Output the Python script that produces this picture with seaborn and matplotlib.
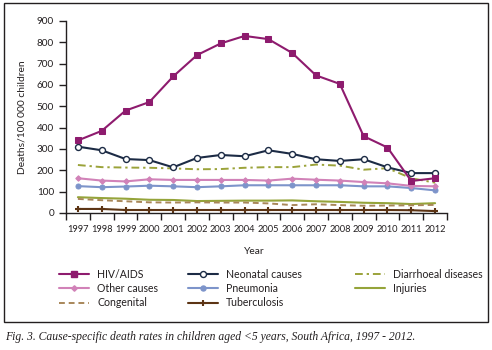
import matplotlib
matplotlib.use("Agg")
import matplotlib.pyplot as plt
import seaborn as sns
import pandas as pd
from matplotlib.patches import Rectangle
from matplotlib.lines import Line2D

years = [1997, 1998, 1999, 2000, 2001, 2002, 2003, 2004, 2005, 2006, 2007, 2008, 2009, 2010, 2011, 2012]
hiv_aids = [340, 385, 480, 520, 640, 740, 795, 830, 815, 750, 645, 605, 360, 307, 150, 163]
neonatal = [311, 294, 253, 248, 214, 258, 272, 266, 294, 277, 252, 244, 252, 214, 187, 187]
diarrhoeal = [225, 215, 213, 212, 209, 205, 206, 212, 215, 215, 227, 222, 203, 210, 163, 142]
other_causes = [163, 152, 148, 158, 155, 155, 155, 155, 152, 161, 156, 152, 145, 139, 127, 125]
pneumonia = [126, 121, 124, 128, 125, 121, 125, 130, 130, 130, 130, 130, 125, 125, 117, 106]
injuries = [74, 70, 67, 62, 61, 56, 57, 58, 58, 59, 55, 52, 48, 46, 42, 46]
congenital = [66, 60, 55, 50, 49, 50, 49, 49, 45, 37, 41, 37, 34, 35, 36, 38]
tuberculosis = [19, 19, 14, 14, 14, 14, 14, 14, 14, 14, 14, 14, 14, 14, 13, 9]

series = [
    ("HIV/AIDS", hiv_aids, dict(color="#8e1b6e", marker="s", markersize=4.3, lw=1.5, ls="-")),
    ("Other causes", other_causes, dict(color="#d182b8", marker="D", markersize=2.8, lw=1.5, ls="-")),
    ("Congenital", congenital, dict(color="#a8875a", marker=None, lw=1.4, ls=(0, (3, 2)))),
    ("Neonatal causes", neonatal, dict(color="#1c2b45", marker="o", markersize=4.3, lw=1.5, ls="-",
                                        mfc="white", mec="#1c2b45", mew=1.0)),
    ("Pneumonia", pneumonia, dict(color="#7d94ca", marker="o", markersize=3.6, lw=1.5, ls="-")),
    ("Tuberculosis", tuberculosis, dict(color="#5c3414", marker="+", markersize=5, mew=1.5, lw=1.5, ls="-")),
    ("Diarrhoeal diseases", diarrhoeal, dict(color="#9ba33a", marker=None, lw=1.4, ls=(0, (4, 2, 1.2, 2)))),
    ("Injuries", injuries, dict(color="#95a43a", marker=None, lw=1.5, ls="-")),
]

sns.set_theme(style="white")
plt.rcParams["font.family"] = ["Lato", "DejaVu Sans"]

fig = plt.figure(figsize=(4.92, 3.5), dpi=100)
fig.patch.set_facecolor("white")
ax = fig.add_axes([66 / 492, 1 - 213 / 350, (447 - 66) / 492, (213 - 21) / 350])

xpos = list(range(len(years)))
draw_order = ["Injuries", "Congenital", "Tuberculosis", "Pneumonia", "Other causes",
              "Diarrhoeal diseases", "Neonatal causes", "HIV/AIDS"]
lookup = {name: (vals, st) for name, vals, st in series}
for name in draw_order:
    vals, st = lookup[name]
    df = pd.DataFrame({"x": xpos, "y": vals})
    kw = dict(st)
    color = kw.pop("color")
    ls = kw.pop("ls")
    lw = kw.pop("lw")
    marker = kw.pop("marker")
    sns.lineplot(data=df, x="x", y="y", ax=ax, color=color, linestyle=ls, linewidth=lw,
                 marker=marker if marker else "", markeredgecolor=kw.pop("mec", color),
                 **kw, legend=False)

ax.set_xlim(-0.5, 15.5)
ax.set_ylim(0, 900)
ax.set_yticks(range(0, 901, 100))
ax.set_xticks(xpos)
ax.set_xticklabels([str(y) for y in years])
ax.set_xticks([i - 0.5 for i in range(17)], minor=True)
ax.tick_params(axis="x", which="major", length=0, labelsize=6.7, pad=9, colors="#231f20")
ax.tick_params(axis="x", which="minor", length=5, width=1.0, direction="out", color="#231f20", bottom=True)
ax.tick_params(axis="y", which="major", length=5, width=1.0, direction="out", color="#231f20",
               labelsize=7.2, left=True, colors="#231f20")
for s in ["top", "right"]:
    ax.spines[s].set_visible(False)
for s in ["left", "bottom"]:
    ax.spines[s].set_color("#231f20")
    ax.spines[s].set_linewidth(1.0)
ax.set_xlabel("")
ax.set_ylabel("")
ax.grid(False)

fig.text(22 / 492, 1 - 117 / 350, "Deaths/100 000 children", rotation=90, ha="center", va="center",
         fontsize=7.4, color="#231f20")
fig.text(254 / 492, 1 - 251 / 350, "Year", ha="center", va="center", fontsize=7.4, color="#231f20")


def proxy(name):
    vals, st = lookup[name]
    m = st.get("marker")
    return Line2D([], [], color=st["color"], linestyle=st["ls"], linewidth=st["lw"],
                  marker=m if m else "", markersize=st.get("markersize", 4),
                  markerfacecolor=st.get("mfc", st["color"]), markeredgecolor=st.get("mec", st["color"]),
                  markeredgewidth=st.get("mew", 1.0))


cols = [(["HIV/AIDS", "Other causes", "Congenital"], 59),
        (["Neonatal causes", "Pneumonia", "Tuberculosis"], 188),
        (["Diarrhoeal diseases", "Injuries"], 355)]
for names, xpx in cols:
    leg = fig.legend([proxy(n) for n in names], names, loc="upper left",
                     bbox_to_anchor=(xpx / 492, 1 - 269 / 350), frameon=False,
                     fontsize=7.6, handlelength=2.8, handletextpad=0.8, labelspacing=0.3,
                     borderpad=0, borderaxespad=0)
    for t in leg.get_texts():
        t.set_color("#231f20")

fig.add_artist(Rectangle((4 / 492, 1 - 322 / 350), 484 / 492, 319 / 350, transform=fig.transFigure,
                         fill=False, edgecolor="#231f20", linewidth=1.0))

fig.text(5 / 492, 1 - 337 / 350,
         "Fig. 3. Cause-specific death rates in children aged <5 years, South Africa, 1997 - 2012.",
         ha="left", va="center", fontsize=8.4, style="italic", family=["Liberation Serif", "DejaVu Serif"],
         color="#231f20")

fig.savefig("out.png", dpi=100)
